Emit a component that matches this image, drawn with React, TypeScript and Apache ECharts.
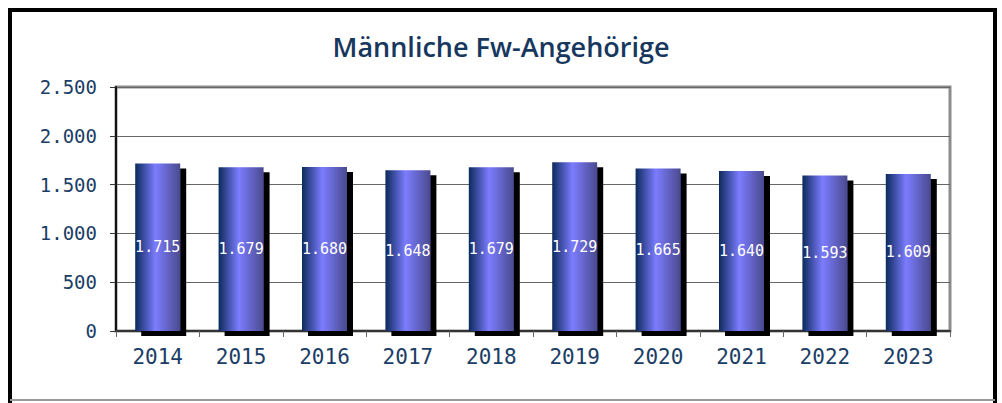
import React, { useEffect, useRef } from "react";
import * as echarts from "echarts";

const categories = ["2014", "2015", "2016", "2017", "2018", "2019", "2020", "2021", "2022", "2023"];
const values = [1715, 1679, 1680, 1648, 1679, 1729, 1665, 1640, 1593, 1609];
const titleText = "Männliche Fw-Angehörige";
const yMin = 0;
const yMax = 2500;
const yInterval = 500;

const fmt = (v: number) => {
  const s = Math.round(v).toString();
  return s.replace(/\B(?=(\d{3})+(?!\d))/g, ".");
};

const mono = "'DejaVu Sans Mono', 'Liberation Mono', monospace";
const blue = "#1B3D66";

export default function App() {
  const ref = useRef<HTMLDivElement>(null);
  useEffect(() => {
    if (!ref.current) return;
    const chart = echarts.init(ref.current, undefined, { renderer: "svg" });
    chart.setOption({
      animation: false,
      backgroundColor: "#fff",
      title: {
        text: titleText,
        left: "center",
        top: 28,
        textStyle: { fontFamily: "'Open Sans', 'Noto Sans', sans-serif", fontWeight: 600, fontSize: 27, color: "#17375E" },
      },
      graphic: [
        {
          type: "polyline",
          shape: { points: [[10, 403], [10, 10], [995, 10], [995, 403]] },
          style: { stroke: "#000", lineWidth: 4, fill: null },
          z: 100,
        },
        {
          type: "line",
          shape: { x1: 10, y1: 400, x2: 995, y2: 400 },
          style: { stroke: "#999", lineWidth: 2 },
          z: 100,
        },
      ],
      grid: {
        left: 116,
        right: 52,
        top: 87,
        bottom: 72,
        show: true,
        borderColor: "#8c8c8c",
        borderWidth: 3,
        backgroundColor: "#fff",
      },
      xAxis: {
        type: "category",
        data: categories,
        axisLine: { show: true, lineStyle: { color: "#333", width: 2 } },
        axisTick: { show: true, length: 6, lineStyle: { color: "#666" } },
        axisLabel: { fontFamily: mono, fontSize: 21, color: blue, margin: 15 },
      },
      yAxis: {
        type: "value",
        min: yMin,
        max: yMax,
        interval: yInterval,
        axisLine: { show: true, lineStyle: { color: "#111", width: 2 } },
        axisTick: { show: true, length: 6, lineStyle: { color: "#333" } },
        splitLine: { show: true, lineStyle: { color: "#666", width: 1 } },
        axisLabel: { fontFamily: mono, fontSize: 19, color: blue, margin: 19, formatter: (v: number) => fmt(v) },
      },
      series: [
        {
          type: "bar",
          data: values,
          barWidth: 45,
          itemStyle: {
            color: new echarts.graphic.LinearGradient(0, 0, 1, 0, [
              { offset: 0, color: "#0c2a5c" },
              { offset: 0.45, color: "#7c7cff" },
              { offset: 1, color: "#4a4a8e" },
            ]),
            shadowColor: "#000",
            shadowBlur: 0,
            shadowOffsetX: 6,
            shadowOffsetY: 5,
          },
          label: {
            show: true,
            position: "inside",
            color: "#fff",
            fontFamily: mono,
            fontSize: 15,
            formatter: (p: any) => fmt(p.value),
          },
        },
      ],
    });
    return () => chart.dispose();
  }, []);
  return (
    <div
      ref={ref}
      style={{ position: "absolute", left: 0, top: 0, width: 1002, height: 403 }}
    />
  );
}
